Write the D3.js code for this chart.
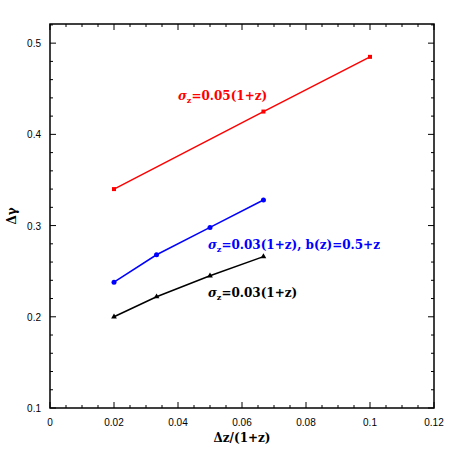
<!DOCTYPE html><html><head><script src="https://cdn.jsdelivr.net/npm/d3@7"></script>
<style>body{margin:0;background:#fff}</style></head><body><svg id="c" width="458" height="458"></svg><script>
const xTicks=[0,0.02,0.04,0.06,0.08,0.1,0.12];
const yTicks=[0.1,0.2,0.3,0.4,0.5];
const redX=[0.02,0.0667,0.1], redY=[0.340,0.425,0.485];
const blueX=[0.02,0.0333,0.05,0.0667], blueY=[0.238,0.268,0.298,0.328];
const blackX=[0.02,0.0333,0.05,0.0667], blackY=[0.200,0.222,0.245,0.266];
const svg=d3.select("#c");
const L=50,R=434,T=24,B=408;
const x=d3.scaleLinear().domain([0,0.12]).range([L,R]);
const y=d3.scaleLinear().domain([0.1,0.521]).range([B,T]);
svg.append("rect").attr("x",L).attr("y",T).attr("width",R-L).attr("height",B-T).attr("fill","none").attr("stroke","#000").attr("stroke-width",1.5);
const g=svg.append("g").attr("stroke","#000").attr("stroke-width",1);
d3.range(0,0.1201,0.005).forEach(v=>{const maj=Math.abs(v/0.02-Math.round(v/0.02))<1e-6;const l=maj?6:3;
 g.append("line").attr("x1",x(v)).attr("x2",x(v)).attr("y1",B).attr("y2",B-l);
 g.append("line").attr("x1",x(v)).attr("x2",x(v)).attr("y1",T).attr("y2",T+l);});
d3.range(0.1,0.521,0.02).forEach(v=>{const maj=Math.abs(v*10-Math.round(v*10))<1e-6;const l=maj?6:3;
 g.append("line").attr("y1",y(v)).attr("y2",y(v)).attr("x1",L).attr("x2",L+l);
 g.append("line").attr("y1",y(v)).attr("y2",y(v)).attr("x1",R).attr("x2",R-l);});
const f="Helvetica, Liberation Sans, Arial, sans-serif";
xTicks.forEach(v=>svg.append("text").attr("x",x(v)).attr("y",B+18).attr("text-anchor","middle").attr("font-family",f).attr("font-size",10).text(v));
yTicks.forEach(v=>svg.append("text").attr("x",L-9).attr("y",y(v)+4).attr("text-anchor","end").attr("font-family",f).attr("font-size",10).text(v));
svg.append("text").attr("x",(L+R)/2).attr("y",442).attr("text-anchor","middle").attr("font-family","DejaVu Serif, serif").attr("font-weight","bold").attr("font-size",12).text("Δz/(1+z)");
svg.append("text").attr("transform",`translate(16,${(T+B)/2}) rotate(-90)`).attr("text-anchor","middle").attr("font-family","DejaVu Serif, serif").attr("font-weight","bold").attr("font-size",12).text("Δγ");
function series(X,Y,col,shape){
 const pts=X.map((v,i)=>[x(v),y(Y[i])]);
 svg.append("path").attr("d",d3.line()(pts)).attr("fill","none").attr("stroke",col).attr("stroke-width",1.5);
 pts.forEach(p=>{
  if(shape==="c")svg.append("circle").attr("cx",p[0]).attr("cy",p[1]).attr("r",2.5).attr("fill",col);
  else if(shape==="s")svg.append("rect").attr("x",p[0]-2).attr("y",p[1]-2).attr("width",4).attr("height",4).attr("fill",col);
  else svg.append("path").attr("d",d3.symbol(d3.symbolTriangle,14)()).attr("transform",`translate(${p[0]},${p[1]})`).attr("fill",col);
 });
}
series(redX,redY,"#ff0000","s");
series(blueX,blueY,"#0000ff","c");
series(blackX,blackY,"#000","t");
function lab(xx,yy,col,rest){
 const t=svg.append("text").attr("x",xx).attr("y",yy).attr("fill",col).attr("font-family","DejaVu Serif, serif").attr("font-weight","bold").attr("font-size",12);
 t.append("tspan").attr("font-style","italic").text("σ");
 t.append("tspan").attr("font-size",8).attr("dy",3).text("z");
 t.append("tspan").attr("dy",-3).text(rest);
}
lab(178,100,"#ff0000","=0.05(1+z)");
lab(208,249,"#0000ff","=0.03(1+z),  b(z)=0.5+z");
lab(208,297,"#000","=0.03(1+z)");
</script></body></html>
